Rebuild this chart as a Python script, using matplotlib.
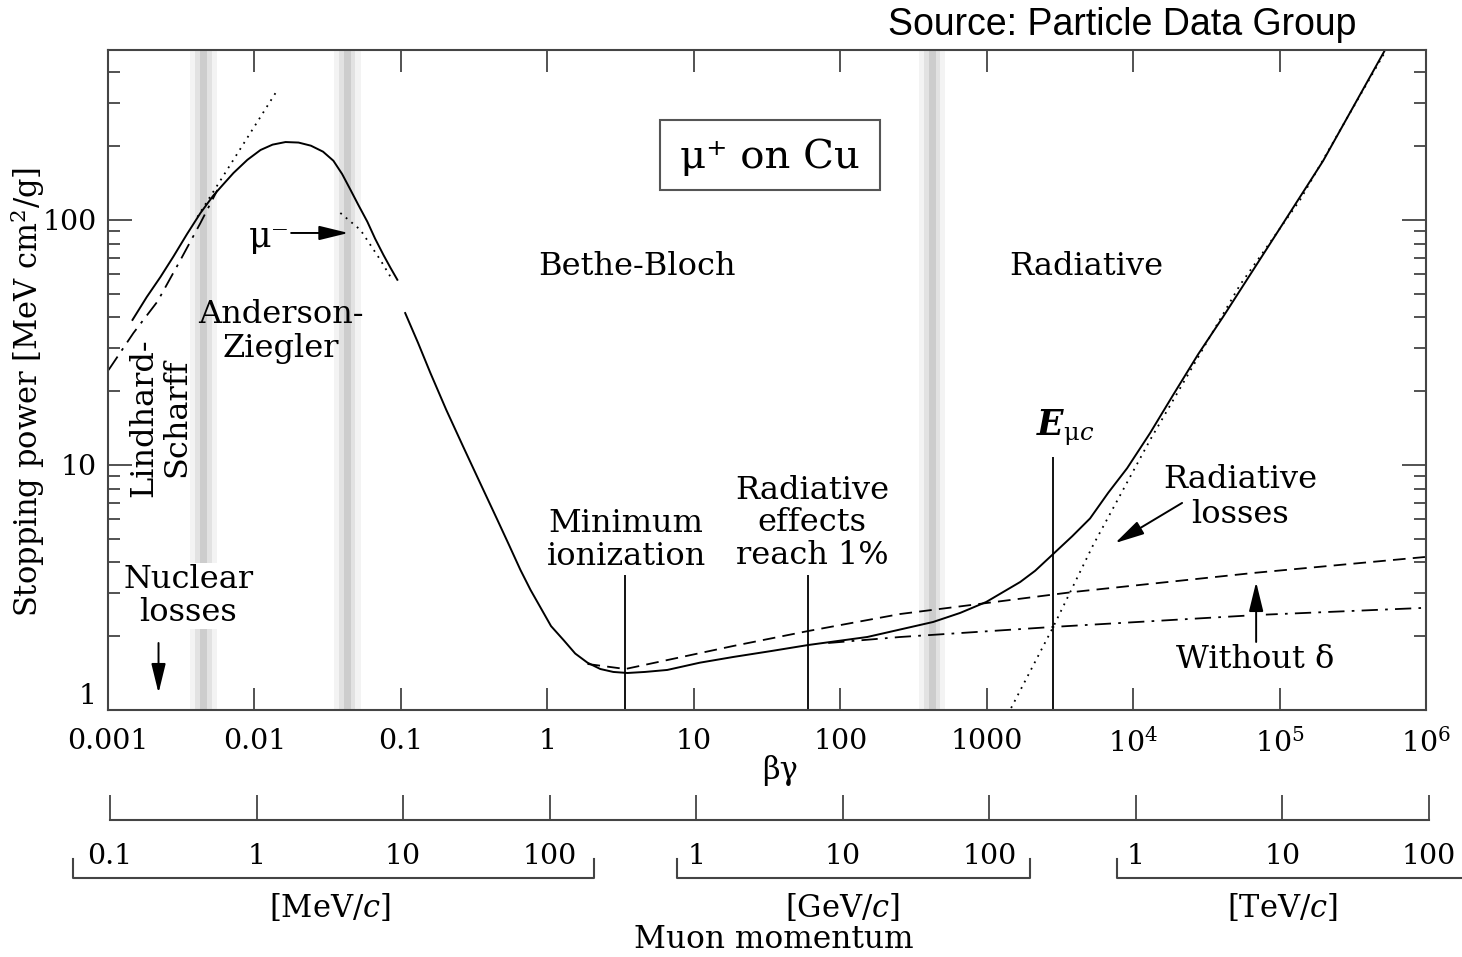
import matplotlib.pyplot as plt
from matplotlib.patches import Rectangle
from matplotlib.ticker import FixedLocator, NullLocator
from matplotlib.transforms import blended_transform_factory

plt.rcParams['font.family'] = 'DejaVu Serif'
plt.rcParams['mathtext.fontset'] = 'dejavuserif'

# total stopping power, low-energy branch (up to beta*gamma ~ 0.1)
bg_low = [0.00147, 0.00184, 0.00228, 0.00280, 0.00346, 0.00428, 0.00525,
          0.00614, 0.00719, 0.00895, 0.0110, 0.0133, 0.0163, 0.0200, 0.0243,
          0.0294, 0.0346, 0.0397, 0.0452, 0.0513, 0.0590, 0.0666, 0.0761,
          0.0849, 0.0946]
sp_low = [39.1, 48.5, 58.5, 71.0, 87.5, 106.8, 126, 140, 155.5, 176, 193,
          203, 208, 207, 201, 190, 174.5, 154, 133, 115, 98.4, 84, 71.9,
          63.8, 57.0]

# total stopping power, Bethe-Bloch + radiative branch
bg_high = [0.107, 0.131, 0.159, 0.204, 0.267, 0.349, 0.456, 0.548, 0.655,
           0.768, 0.895, 1.06, 1.29, 1.55, 1.88, 2.30, 2.82, 3.52, 4.64, 6.59,
           11.0, 18.6, 33.7, 60.5, 153, 431, 659, 993, 1694, 2143, 2891, 3840,
           5080, 6760, 9100, 13060, 18750, 27800, 41100, 90300, 198000,
           525000]
sp_high = [41.7, 31.5, 23.75, 16.8, 11.84, 8.40, 5.97, 4.71, 3.73, 3.09,
           2.63, 2.20, 1.93, 1.70, 1.56, 1.47, 1.43, 1.416, 1.43, 1.457,
           1.56, 1.646, 1.74, 1.842, 1.986, 2.287, 2.49, 2.76, 3.33, 3.70,
           4.37, 5.12, 6.05, 7.7, 9.7, 13.5, 19.3, 28.3, 40.2, 83.6, 174, 494]

# ionization only (dashed)
bg_ion = [1.88, 3.41, 18.6, 60.5, 257, 3893, 65900, 984000]
sp_ion = [1.541, 1.470, 1.825, 2.101, 2.465, 3.031, 3.624, 4.212]

# ionization without delta rays (dash-dot)
bg_nodelta = [82.8, 257, 2844, 70200, 925000]
sp_nodelta = [1.877, 1.986, 2.183, 2.442, 2.608]

# Lindhard-Scharff (dash-dot, low energy)
bg_ls = [0.001008, 0.001493, 0.002178, 0.003126, 0.004277, 0.005585]
sp_ls = [24.4, 34.6, 46.5, 68.7, 97.2, 132.5]

# radiative losses alone (dotted)
bg_rad = [1469, 2844, 5333, 13060, 53700, 138000, 525000]
sp_rad = [1.019, 2.18, 4.71, 12.65, 54.3, 120.7, 485]

# low-energy power-law extrapolation (dotted)
bg_ext = [0.00408, 0.01436]
sp_ext = [102.9, 339.4]

# mu- curve (dotted)
bg_mum = [0.0386, 0.0530, 0.0724, 0.0875]
sp_mum = [106.8, 91.0, 68.7, 56.9]

# vertical markers: minimum ionization, radiative effects 1%, E_muc
bg_markers = [3.41, 60.5, 2844]
marker_tops = [3.56, 3.56, 10.78]

# regime boundaries
band_centers = [0.00449, 0.0431, 425]

xticks = [1e-3, 1e-2, 1e-1, 1, 10, 100, 1000, 1e4, 1e5, 1e6]
xticklabels = ['0.001', '0.01', '0.1', '1', '10', '100', '1000',
               '10$^4$', '10$^5$', '10$^6$']

# muon momentum scale, MeV/c
p_ticks = [0.1, 1, 10, 100, 1e3, 1e4, 1e5, 1e6, 1e7, 1e8]
p_groups = [
    ('[MeV/$c$]', [0.1, 1, 10, 100], ['0.1', '1', '10', '100'], 1.8, 2.0),
    ('[GeV/$c$]', [1e3, 1e4, 1e5], ['1', '10', '100'], 1.35, 1.9),
    ('[TeV/$c$]', [1e6, 1e7, 1e8], ['1', '10', '100'], 1.35, 3.0),
]

W, H = 1462, 957
fig = plt.figure(figsize=(W / 100, H / 100), dpi=100)
ax = fig.add_axes([108 / W, 1 - 710 / H, 1318 / W, 660 / H])
ax.set_xscale('log')
ax.set_yscale('log')
ax.set_xlim(1e-3, 1e6)
ax.set_ylim(1, 494)

frame = '#444444'
for s in ax.spines.values():
    s.set_color(frame)
    s.set_linewidth(1.5)

for c in band_centers:
    for half, col in [(0.09, '#f3f3f3'), (0.055, '#e2e2e2'), (0.025, '#cdcdcd')]:
        ax.axvspan(c / 10**half, c * 10**half, color=col, lw=0, zorder=0)

lw = 1.4
dash = (0, (7, 4))
dashdot = (0, (9, 4, 1.5, 4))
dot = (0, (1, 3))
ax.plot(bg_low, sp_low, color='k', lw=lw)
ax.plot(bg_high, sp_high, color='k', lw=lw)
ax.plot(bg_ion, sp_ion, color='k', lw=1.3, ls=dash)
ax.plot(bg_nodelta, sp_nodelta, color='k', lw=1.3, ls=dashdot)
ax.plot(bg_ls, sp_ls, color='k', lw=1.3, ls=dashdot)
ax.plot(bg_rad, sp_rad, color='k', lw=1.3, ls=dot)
ax.plot(bg_ext, sp_ext, color='k', lw=1.3, ls=dot)
ax.plot(bg_mum, sp_mum, color='k', lw=1.3, ls=dot)
ax.vlines(bg_markers, 1, marker_tops, colors='k', lw=1.3)

# ticks
ax.xaxis.set_major_locator(FixedLocator(xticks))
ax.xaxis.set_minor_locator(NullLocator())
ax.set_xticklabels(xticklabels)
ax.yaxis.set_major_locator(FixedLocator([1, 10, 100]))
ax.yaxis.set_minor_locator(FixedLocator(
    [m * d for d in (1, 10, 100) for m in range(2, 10) if m * d < 494]))
ax.set_yticklabels(['1', '10', '100'])
ax.tick_params(which='both', direction='in', top=True, right=True,
               color=frame, width=1.3)
ax.tick_params(axis='x', which='major', length=16, pad=13, labelsize=20.5)
ax.tick_params(axis='y', which='major', length=17, pad=8, labelsize=20.5)
ax.tick_params(axis='y', which='minor', length=8.5)
ax.get_yticklabels()[0].set_verticalalignment('bottom')

ax.set_xlabel('βγ', fontsize=22)
ax.xaxis.set_label_coords(0.51, -0.068)
ax.set_ylabel('Stopping power [MeV cm$^2$/g]', fontsize=22)
ax.yaxis.set_label_coords(-0.046, 0.482)

fs = 23
ax.text(4.11, 64.3, 'Bethe-Bloch', fontsize=fs, ha='center', va='center')
ax.text(4780, 64.3, 'Radiative', fontsize=fs, ha='center', va='center')
ax.text(0.01505, 35.2, 'Anderson-\nZiegler', fontsize=fs, ha='center',
        va='center', linespacing=1.12)
ax.text(0.00228, 15.6, 'Lindhard-\nScharff', fontsize=fs, ha='center',
        va='center', rotation=90, linespacing=1.08)
ax.text(0.003545, 2.92, 'Nuclear\nlosses', fontsize=fs, ha='center',
        va='center', linespacing=1.08,
        bbox=dict(facecolor='white', edgecolor='none', pad=1))
ax.text(3.46, 4.94, 'Minimum\nionization', fontsize=fs, ha='center',
        va='center', linespacing=1.06)
ax.text(64.4, 5.8, 'Radiative\neffects\nreach 1%', fontsize=fs, ha='center',
        va='center', linespacing=1.06)
ax.text(3435, 14.2, r'$\mathbfit{E}_{\mathrm{\mu}c}$', fontsize=25,
        ha='center', va='center')
ax.text(53700, 7.4, 'Radiative\nlosses', fontsize=fs, ha='center',
        va='center', linespacing=1.14)
ax.text(68100, 1.6, 'Without δ', fontsize=fs, ha='center', va='center')
ax.text(0.0175, 85.3, 'μ⁻', fontsize=fs + 2, ha='right', va='center')

# title box
ax.add_patch(Rectangle(((660 - 108) / 1318, (710 - 190) / 660), 220 / 1318,
                       70 / 660, transform=ax.transAxes, facecolor='white',
                       edgecolor='#555555', lw=1.5, zorder=3))
ax.text((770 - 108) / 1318, (710 - 157) / 660, 'μ⁺ on Cu', fontsize=29,
        ha='center', va='center', transform=ax.transAxes, zorder=4)

arrow = dict(arrowstyle='-|>,head_length=0.9,head_width=0.22', color='k',
             lw=1.4, shrinkA=0, shrinkB=0, mutation_scale=20)
ax.annotate('', xy=(0.0438, 88.5), xytext=(0.0178, 88.5), arrowprops=arrow)
ax.annotate('', xy=(0.002213, 1.173), xytext=(0.002213, 1.877),
            arrowprops=arrow)
ax.annotate('', xy=(7530, 4.80), xytext=(21600, 7.0), arrowprops=arrow)
# white backing so the arrow interrupts the dash-dot curve
ax.annotate('', xy=(69200, 2.9), xytext=(69200, 1.95),
            arrowprops=dict(arrowstyle='-', color='white', lw=14,
                            shrinkA=0, shrinkB=0))
ax.annotate('', xy=(69200, 3.33), xytext=(69200, 1.895), arrowprops=arrow)

fig.text(1356 / W, 1 - 25 / H, 'Source: Particle Data Group',
         family='Liberation Sans', fontsize=27, ha='right', va='center')

# momentum scale below the main frame
axp = fig.add_axes([110 / W, 1 - 820 / H, 1319 / W, 0.001])
axp.set_xscale('log')
axp.set_xlim(0.1, 1e8)
axp.patch.set_visible(False)
for side in ('top', 'left', 'right'):
    axp.spines[side].set_visible(False)
axp.spines['bottom'].set_color(frame)
axp.spines['bottom'].set_linewidth(1.5)
axp.set_yticks([])
axp.xaxis.set_major_locator(FixedLocator(p_ticks))
axp.xaxis.set_minor_locator(NullLocator())
axp.tick_params(axis='x', direction='in', length=18, width=1.3, color=frame,
                labelbottom=False)

tr = blended_transform_factory(axp.transData, fig.transFigure)
y_line = 1 - 878 / H
y_end = 1 - 859 / H
for unit, vals, labels, pad_lo, pad_hi in p_groups:
    lo, hi = vals[0] / pad_lo, vals[-1] * pad_hi
    axp.plot([lo, lo, hi, hi], [y_end, y_line, y_line, y_end], color=frame,
             lw=1.5, transform=tr, clip_on=False)
    for v, lab in zip(vals, labels):
        axp.text(v, 1 - 856 / H, lab, transform=tr, fontsize=20.5,
                 ha='center', va='center')
    mid = (vals[0] * vals[-1]) ** 0.5
    axp.text(mid, 1 - 908 / H, unit, transform=tr, fontsize=22,
             ha='center', va='center')
axp.text(0.503, 1 - 940 / H, 'Muon momentum', fontsize=22.5, ha='center',
         va='center', transform=blended_transform_factory(axp.transAxes,
                                                          fig.transFigure))

fig.savefig('out.png', dpi=100)
